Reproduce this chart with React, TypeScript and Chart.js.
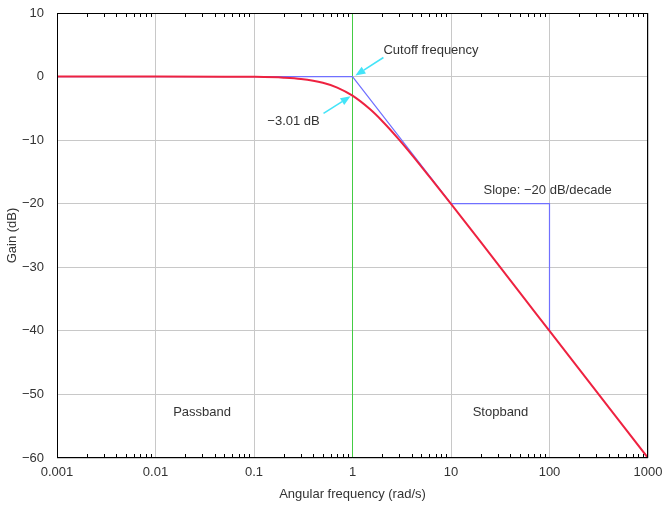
import React, { useEffect, useRef } from 'react';
import { Chart, registerables } from 'chart.js';

Chart.register(...registerables);

const FONT_FAMILY = '"Liberation Sans", Arial, sans-serif';
const TEXT_COLOR = '#333333';

// Low-pass filter gain curve
const freq = [0.001, 0.01, 0.05, 0.1, 0.2, 0.3, 0.5, 0.7, 1, 1.5, 2, 3, 5, 7, 10, 20, 50, 100, 1000];
const gain = [0, 0, -0.01, -0.04, -0.17, -0.37, -0.97, -1.73, -3.01, -5.12, -6.99, -10.0, -14.15, -17.0, -20.04, -26.0, -34.0, -40.0, -60.0];

// Asymptote (blue)
const asymFreq = [0.001, 1, 10];
const asymGain = [0, 0, -20];

// Slope triangle (blue)
const slopeFreq = [10, 100, 100];
const slopeGain = [-20, -20, -40];

// Cutoff frequency vertical line (green)
const cutoffFreq = [1, 1];
const cutoffGain = [10, -60];

// Axes
const xTickValues = [0.001, 0.01, 0.1, 1, 10, 100, 1000];
const xTickLabels = ['0.001', '0.01', '0.1', '1', '10', '100', '1000'];
const yTickValues = [10, 0, -10, -20, -30, -40, -50, -60];
const yTickLabels = ['10', '0', '\u221210', '\u221220', '\u221230', '\u221240', '\u221250', '\u221260'];
const minorMultipliers = [2, 3, 4, 5, 6, 7, 8, 9];

// Annotations (data coordinates)
const noteTexts = ['Cutoff frequency', '\u22123.01 dB', 'Slope: \u221220 dB/decade', 'Passband', 'Stopband'];
const noteFreq = [2.06, 0.252, 21.4, 0.0297, 31.8];
const noteGain = [4.1, -7.1, -17.9, -52.9, -52.9];
const noteAlign: CanvasTextAlign[] = ['left', 'center', 'left', 'center', 'center'];

const arrowFromFreq = [2.06, 0.508];
const arrowFromGain = [3.0, -5.8];
const arrowToFreq = [1.07, 0.955];
const arrowToGain = [0.15, -3.1];

const pts = (xs: number[], ys: number[]) => xs.map((x, i) => ({ x, y: ys[i] }));

const decorPlugin = {
  id: 'decor',
  afterDatasetsDraw(chart: any) {
    const { ctx, chartArea: a, scales } = chart;
    const xs = scales.x;
    const ys = scales.y;
    ctx.save();

    // minor ticks on top and bottom
    ctx.strokeStyle = '#000';
    ctx.lineWidth = 1;
    ctx.beginPath();
    for (let d = 0; d < xTickValues.length - 1; d++) {
      for (const m of minorMultipliers) {
        const px = Math.round(xs.getPixelForValue(xTickValues[d] * m)) + 0.5;
        ctx.moveTo(px, a.bottom);
        ctx.lineTo(px, a.bottom - 4);
        ctx.moveTo(px, a.top);
        ctx.lineTo(px, a.top + 4);
      }
    }
    ctx.stroke();

    // frame
    const l = Math.round(a.left) + 0.5;
    const t = Math.round(a.top) + 0.5;
    const r = Math.round(a.right) - 0.5;
    const b = Math.round(a.bottom) - 0.5;
    ctx.strokeStyle = '#000';
    ctx.strokeRect(l, t, r - l, b - t);

    // arrows
    ctx.strokeStyle = '#44e4f8';
    ctx.fillStyle = '#44e4f8';
    ctx.lineWidth = 1.6;
    for (let i = 0; i < arrowFromFreq.length; i++) {
      const x0 = xs.getPixelForValue(arrowFromFreq[i]);
      const y0 = ys.getPixelForValue(arrowFromGain[i]);
      const x1 = xs.getPixelForValue(arrowToFreq[i]);
      const y1 = ys.getPixelForValue(arrowToGain[i]);
      const ang = Math.atan2(y1 - y0, x1 - x0);
      const hl = 10;
      const hw = 4;
      const bx = x1 - hl * Math.cos(ang);
      const by = y1 - hl * Math.sin(ang);
      ctx.beginPath();
      ctx.moveTo(x0, y0);
      ctx.lineTo(bx, by);
      ctx.stroke();
      ctx.beginPath();
      ctx.moveTo(x1, y1);
      ctx.lineTo(bx + hw * Math.sin(ang), by - hw * Math.cos(ang));
      ctx.lineTo(bx - hw * Math.sin(ang), by + hw * Math.cos(ang));
      ctx.closePath();
      ctx.fill();
    }

    // annotation texts
    ctx.fillStyle = TEXT_COLOR;
    ctx.font = `13px ${FONT_FAMILY}`;
    ctx.textBaseline = 'middle';
    for (let i = 0; i < noteTexts.length; i++) {
      ctx.textAlign = noteAlign[i];
      ctx.fillText(noteTexts[i], xs.getPixelForValue(noteFreq[i]), ys.getPixelForValue(noteGain[i]));
    }
    ctx.restore();
  },
};

export default function App() {
  const ref = useRef<HTMLCanvasElement | null>(null);

  useEffect(() => {
    if (!ref.current) return;
    const chart = new Chart(ref.current, {
      type: 'line',
      data: {
        datasets: [
          {
            label: 'Gain',
            data: pts(freq, gain),
            borderColor: '#ee2240',
            borderWidth: 2,
            pointRadius: 0,
            cubicInterpolationMode: 'monotone',
            order: 0,
          },
          {
            label: 'Asymptote',
            data: pts(asymFreq, asymGain),
            borderColor: '#7070ff',
            borderWidth: 1.2,
            pointRadius: 0,
            order: 1,
          },
          {
            label: 'Slope',
            data: pts(slopeFreq, slopeGain),
            borderColor: '#7070ff',
            borderWidth: 1.2,
            pointRadius: 0,
            order: 1,
          },
          {
            label: 'Cutoff',
            data: pts(cutoffFreq, cutoffGain),
            borderColor: '#44cc44',
            borderWidth: 1,
            pointRadius: 0,
            order: 2,
          },
        ],
      },
      options: {
        responsive: false,
        animation: false,
        parsing: false,
        layout: { padding: { top: 13, right: 15, left: 0, bottom: 0 } },
        plugins: {
          legend: { display: false },
          tooltip: { enabled: false },
        },
        scales: {
          x: {
            type: 'logarithmic',
            min: 0.001,
            max: 1000,
            afterBuildTicks: (scale: any) => {
              scale.ticks = xTickValues.map((value) => ({ value }));
            },
            afterFit: (scale: any) => {
              scale.height = 47;
              scale.paddingLeft = 0;
              scale.paddingRight = 0;
            },
            ticks: {
              autoSkip: false,
              maxRotation: 0,
              padding: 7,
              color: TEXT_COLOR,
              font: { family: FONT_FAMILY, size: 13 },
              callback: (_v: any, i: number) => xTickLabels[i],
            },
            grid: { color: '#c8c8c8', lineWidth: 1, drawTicks: false },
            border: { display: false },
            title: {
              display: true,
              text: 'Angular frequency (rad/s)',
              color: TEXT_COLOR,
              font: { family: FONT_FAMILY, size: 13 },
              padding: { top: 0, bottom: 3 },
            },
          },
          y: {
            type: 'linear',
            min: -60,
            max: 10,
            afterBuildTicks: (scale: any) => {
              scale.ticks = yTickValues.map((value) => ({ value }));
            },
            afterFit: (scale: any) => {
              scale.width = 57;
              scale.paddingTop = 0;
              scale.paddingBottom = 0;
            },
            ticks: {
              autoSkip: false,
              padding: 13,
              color: TEXT_COLOR,
              font: { family: FONT_FAMILY, size: 13 },
              callback: (_v: any, i: number) => yTickLabels[i],
            },
            grid: { color: '#c8c8c8', lineWidth: 1, drawTicks: false },
            border: { display: false },
            title: {
              display: true,
              text: 'Gain (dB)',
              color: TEXT_COLOR,
              font: { family: FONT_FAMILY, size: 13 },
              padding: { top: 5, bottom: 0 },
            },
          },
        },
      },
      plugins: [decorPlugin],
    });
    return () => chart.destroy();
  }, []);

  return (
    <div style={{ position: 'absolute', left: 0, top: 0, width: 663, height: 505, background: '#fff' }}>
      <canvas ref={ref} width={663} height={505} />
    </div>
  );
}
